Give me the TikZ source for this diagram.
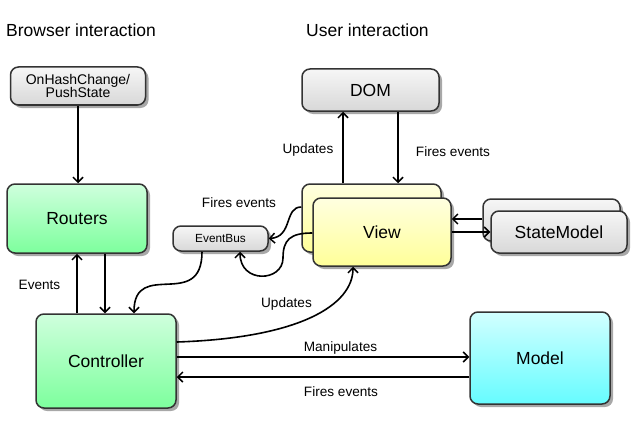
\documentclass[tikz,border=0pt]{standalone}
\usepackage{fontspec}
\setmainfont{Liberation Sans}
\usetikzlibrary{shadows,arrows.meta,shadings}
\definecolor{bord}{HTML}{333333}
\definecolor{shadowc}{HTML}{A8A8A8}
\definecolor{grayT}{HTML}{F6F6F6}
\definecolor{grayB}{HTML}{D8D8D8}
\definecolor{greenT}{HTML}{CFFFDD}
\definecolor{greenB}{HTML}{7DFF9D}
\definecolor{cyanT}{HTML}{D2FFFF}
\definecolor{cyanB}{HTML}{66FCFF}
\definecolor{yelT}{HTML}{FFFFE0}
\definecolor{yelB}{HTML}{FFFF99}
\tikzset{
  box/.style={draw=bord, line width=1.5pt, rounded corners=8pt, inner sep=0pt,
    drop shadow={shadow xshift=3pt, shadow yshift=-3pt, fill=shadowc, opacity=1}},
  graybox/.style={box, top color=grayT, bottom color=grayB},
  greenbox/.style={box, top color=greenT, bottom color=greenB},
  cyanbox/.style={box, top color=cyanT, bottom color=cyanB},
  yelbox/.style={box, top color=yelT, bottom color=yelB},
  bigtxt/.style={font=\fontsize{17.5}{20}\selectfont},
  midtxt/.style={font=\fontsize{14}{15}\selectfont, align=center},
  smalltxt/.style={font=\fontsize{11.8}{13}\selectfont},
  lbl/.style={font=\fontsize{13.6}{15}\selectfont, inner sep=0pt},
  title/.style={font=\fontsize{17.5}{20}\selectfont, anchor=west, inner sep=0pt},
  conn/.style={line width=1.6pt, draw=black, -{Straight Barb[length=5pt,width=10pt,line width=1.5pt]}},
}
\begin{document}
\begin{tikzpicture}[x=1pt,y=-1pt]
\useasboundingbox (0,0) rectangle (644,433);

% titles
\node[title] (tb) at (6,30) {Browser interaction};
\node[title] (tu) at (306,30) {User interaction};

% nodes
\node[graybox, midtxt, minimum width=135pt, minimum height=38pt] (hash) at (78,86) {OnHashChange/\\[-2pt]PushState};
\node[graybox, bigtxt, minimum width=137pt, minimum height=42pt] (dom) at (370.5,90) {DOM};
\node[greenbox, bigtxt, minimum width=140pt, minimum height=69pt] (routers) at (77,218.5) {Routers};
\node[graybox, smalltxt, minimum width=95pt, minimum height=25pt] (bus) at (220.5,238.5) {EventBus};
\node[yelbox, minimum width=139pt, minimum height=68pt] (viewback) at (371.5,218) {};
\node[yelbox, bigtxt, minimum width=138pt, minimum height=68pt] (view) at (382,232) {View};
\node[graybox, minimum width=137pt, minimum height=42pt] (smback) at (551.5,220) {};
\node[graybox, bigtxt, minimum width=136pt, minimum height=42pt] (sm) at (559,232) {StateModel};
\node[greenbox, bigtxt, minimum width=140pt, minimum height=94pt] (ctrl) at (106,361) {Controller};
\node[cyanbox, bigtxt, minimum width=140pt, minimum height=92pt] (model) at (540,358) {Model};

% connectors
\draw[conn] (hash.south) -- (hash.south |- routers.north);
\draw[conn] ([xshift=-29pt]ctrl.north) -- ([xshift=-29pt]ctrl.north |- routers.south);
\draw[conn] ([xshift=28pt]routers.south) -- ([xshift=28pt]routers.south |- ctrl.north);
\draw[conn] ([xshift=-18.5pt]bus.south) .. controls +(0,60) and +(0,-55) .. ([xshift=28pt]ctrl.north);
\draw[conn] ([yshift=-1pt]view.west) .. controls (290,233) and (283,240) .. (283,258)
   .. controls (283,282) and (240,284) .. ([xshift=19.5pt]bus.south);
\draw[conn] ([yshift=11pt]viewback.west) .. controls (284,207) and (293,237) .. (bus.east);
\draw[conn] ([xshift=-28.5pt]viewback.north) -- ([xshift=-28.5pt]viewback.north |- dom.south);
\draw[conn] ([xshift=27.5pt]dom.south) -- ([xshift=27.5pt]dom.south |- viewback.north);
\draw[conn] ([yshift=1pt]smback.west) -- ([yshift=1pt]smback.west -| view.east);
\draw[conn] (view.east) -- (sm.west);
\draw[conn] ([yshift=19pt]ctrl.east) .. controls (300,338) and (353,305) .. ([xshift=-29pt]view.south);
\draw[conn] ([yshift=4pt]ctrl.east) -- ([yshift=4pt]ctrl.east -| model.west);
\draw[conn] ([yshift=-19pt]model.west) -- ([yshift=-19pt]model.west -| ctrl.east);

% labels
\node[lbl] (l1) at (39.5,285) {Events};
\node[lbl] (l2) at (239,203) {Fires events};
\node[lbl] (l3) at (308,150) {Updates};
\node[lbl] (l4) at (453,152) {Fires events};
\node[lbl] (l5) at (286.5,304) {Updates};
\node[lbl] (l6) at (340.5,348) {Manipulates};
\node[lbl] (l7) at (341,392) {Fires events};
\end{tikzpicture}
\end{document}
